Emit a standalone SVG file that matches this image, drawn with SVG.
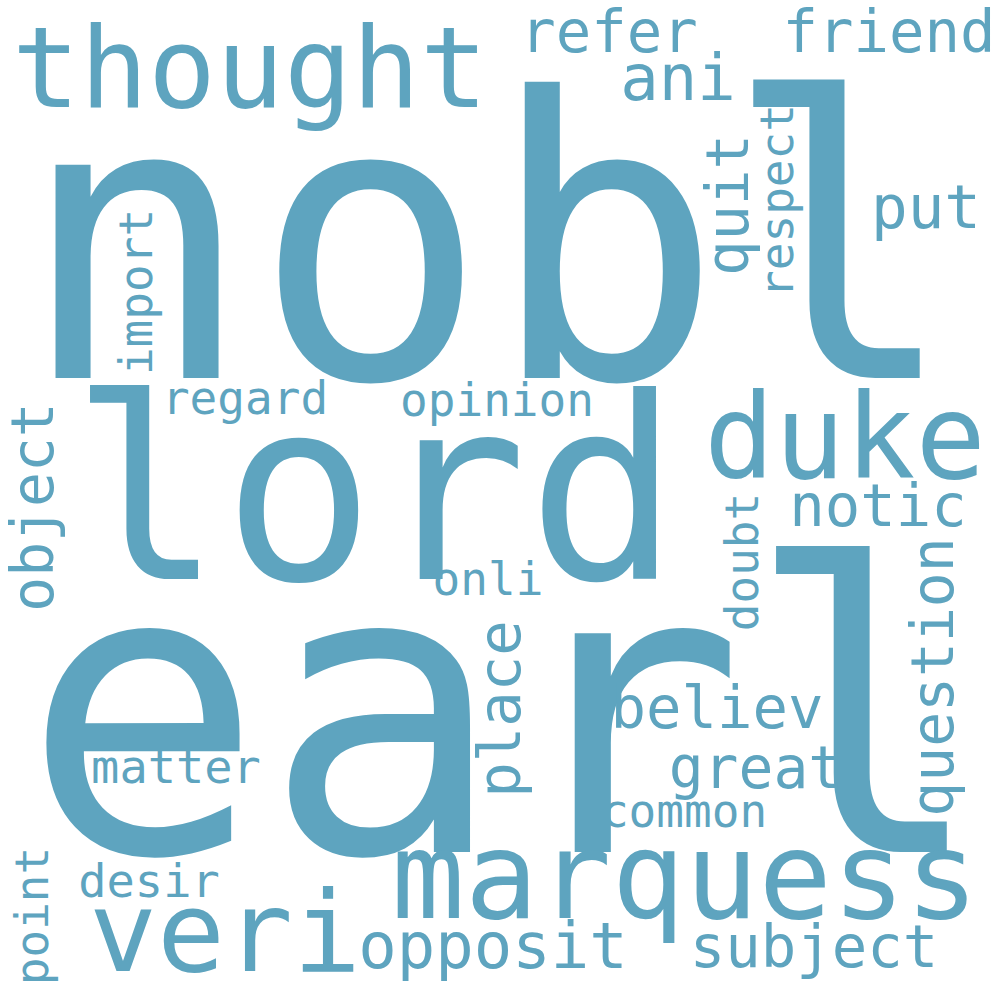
<svg xmlns="http://www.w3.org/2000/svg" width="1000" height="1000" viewBox="0 0 1000 1000">
<style>
text{font-family:"DejaVu Sans Mono","Liberation Mono",monospace;fill:#5ea4bf;text-anchor:middle}
</style>
<rect width="1000" height="1000" fill="#ffffff"/>
<g id="words">
<g id="w-nobl"><text x="488" y="378" font-size="390">nobl</text></g>
<g id="w-earl"><text x="504" y="852" font-size="400">earl</text></g>
<g id="w-lord"><text x="375" y="579" font-size="253">lord</text></g>
<g id="w-thought"><text x="250" y="107" font-size="113">thought</text></g>
<g id="w-refer"><text x="609" y="52" font-size="59">refer</text></g>
<g id="w-friend"><text x="889" y="52" font-size="59">friend</text></g>
<g id="w-ani"><text x="678" y="100" font-size="64">ani</text></g>
<g id="w-put"><text x="926" y="228" font-size="61">put</text></g>
<g id="w-quit"><text transform="translate(748,205) rotate(-90)" font-size="59">quit</text></g>
<g id="w-respect"><text transform="translate(793,201) rotate(-90)" font-size="46">respect</text></g>
<g id="w-import"><text transform="translate(152,292) rotate(-90)" font-size="46">import</text></g>
<g id="w-regard"><text x="245" y="414" font-size="46">regard</text></g>
<g id="w-opinion"><text x="497" y="416" font-size="46">opinion</text></g>
<g id="w-object"><text transform="translate(53,507) rotate(-90)" font-size="58">object</text></g>
<g id="w-onli"><text x="488" y="595" font-size="46">onli</text></g>
<g id="w-duke"><text x="845" y="478" font-size="117">duke</text></g>
<g id="w-notic"><text x="878" y="526" font-size="59">notic</text></g>
<g id="w-doubt"><text transform="translate(758,562) rotate(-90)" font-size="46">doubt</text></g>
<g id="w-question"><text transform="translate(953,677) rotate(-90)" font-size="58">question</text></g>
<g id="w-place"><text transform="translate(520,709) rotate(-90)" font-size="59">place</text></g>
<g id="w-believ"><text x="717" y="728" font-size="59">believ</text></g>
<g id="w-great"><text x="756" y="788" font-size="58">great</text></g>
<g id="w-common"><text x="684" y="827" font-size="46">common</text></g>
<g id="w-marquess"><text x="685" y="918" font-size="122">marquess</text></g>
<g id="w-matter"><text x="176" y="783" font-size="47">matter</text></g>
<g id="w-desir"><text x="149" y="897" font-size="47">desir</text></g>
<g id="w-point"><text transform="translate(48,916) rotate(-90)" font-size="46">point</text></g>
<g id="w-veri"><text x="225" y="971" font-size="113">veri</text></g>
<g id="w-opposit"><text x="493" y="968" font-size="64">opposit</text></g>
<g id="w-subject"><text x="814" y="967" font-size="59">subject</text></g>
</g>
<g id="connectors"/>
</svg>
